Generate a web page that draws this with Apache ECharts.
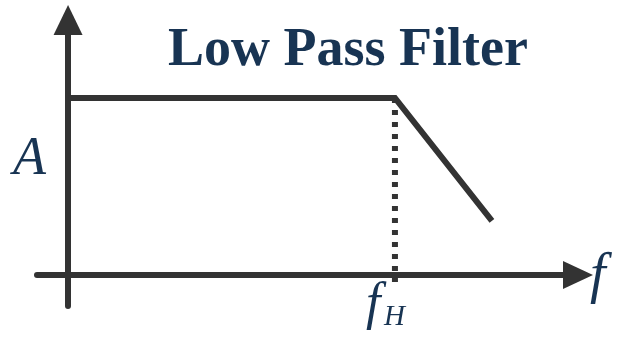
<!DOCTYPE html>
<html>
<head>
<meta charset="utf-8">
<script src="https://cdn.jsdelivr.net/npm/echarts@6/dist/echarts.min.js"></script>
<style>
html, body { margin: 0; padding: 0; background: #fff; }
#main { width: 618px; height: 339px; }
</style>
</head>
<body>
<div id="main"></div>
<script>
// response shape (x = frequency, y = gain), f_H at x = 6, A at y = 5
var passband = [[0, 5], [6, 5], [7.78, 1.53]];
var cutoff = [[6, 5], [6, -0.2]];
var xRange = [-0.57, 9.36];
var yRange = [-0.876, 7.2];

var lineColor = '#333333';
var textColor = '#183453';

var chart = echarts.init(document.getElementById('main'));
var option = {
    animation: false,
    backgroundColor: '#ffffff',
    grid: {
        left: 37,
        right: 40,
        top: 20,
        bottom: 33
    },
    title: {
        text: 'Low Pass Filter',
        left: 343,
        top: 19,
        textAlign: 'center',
        textStyle: {
            fontFamily: 'Liberation Serif',
            fontWeight: 'bold',
            fontSize: 54,
            color: textColor
        }
    },
    xAxis: {
        type: 'value',
        min: xRange[0],
        max: xRange[1],
        splitLine: { show: false },
        axisTick: { show: false },
        axisLabel: { show: false },
        axisLine: {
            onZero: true,
            symbol: ['none', 'triangle'],
            symbolSize: [28, 30],
            lineStyle: { color: lineColor, width: 6 }
        }
    },
    yAxis: {
        type: 'value',
        min: yRange[0],
        max: yRange[1],
        splitLine: { show: false },
        axisTick: { show: false },
        axisLabel: { show: false },
        axisLine: {
            onZero: true,
            symbol: ['none', 'triangle'],
            symbolSize: [29, 30],
            lineStyle: { color: lineColor, width: 6 }
        }
    },
    series: [
        {
            type: 'line',
            data: cutoff,
            symbol: 'none',
            lineStyle: { color: lineColor, width: 6, type: [5, 7], cap: 'butt' },
            z: 3
        },
        {
            type: 'line',
            data: passband,
            symbol: 'none',
            lineStyle: { color: lineColor, width: 6, join: 'miter' },
            z: 4
        }
    ],
    graphic: [
        {
            type: 'text',
            left: 13,
            top: 133,
            style: {
                text: 'A',
                fontFamily: 'Liberation Serif',
                fontStyle: 'italic',
                fontSize: 54,
                fill: textColor
            }
        },
        {
            type: 'text',
            left: 590,
            top: 249,
            style: {
                text: 'f',
                fontFamily: 'Liberation Serif',
                fontStyle: 'italic',
                fontSize: 56,
                fill: textColor
            }
        },
        {
            type: 'text',
            left: 366,
            top: 279,
            style: {
                text: 'f',
                fontFamily: 'Liberation Serif',
                fontStyle: 'italic',
                fontSize: 52,
                fill: textColor
            }
        },
        {
            type: 'text',
            left: 384,
            top: 303,
            style: {
                text: 'H',
                fontFamily: 'Liberation Serif',
                fontStyle: 'italic',
                fontSize: 29,
                fill: textColor
            }
        }
    ]
};
chart.setOption(option);
</script>
</body>
</html>
